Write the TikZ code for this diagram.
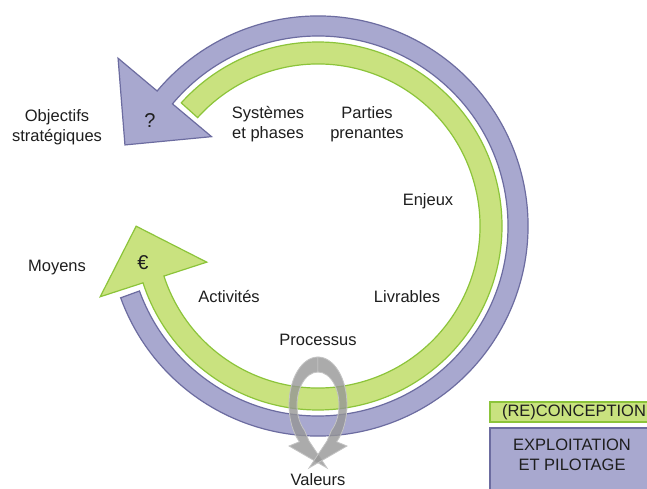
\documentclass[tikz,border=0pt]{standalone}
\usepackage{fontspec}
\setmainfont{Liberation Sans}
\usetikzlibrary{calc}
\definecolor{bandblue}{HTML}{A8A8CF}
\definecolor{edgeblue}{HTML}{6C6CA0}
\definecolor{bandgreen}{HTML}{C9E27F}
\definecolor{edgegreen}{HTML}{8CC43A}
\definecolor{loopgray}{HTML}{969696}
\definecolor{loopedge}{HTML}{C4C4C4}
\definecolor{txt}{HTML}{1E1E1E}
\begin{document}
\begin{tikzpicture}[x=1pt,y=1pt,
  lbl/.style={font=\fontsize{16.5}{20}\selectfont, text=txt, align=center, inner sep=0pt},
  sym/.style={font=\fontsize{20}{24}\selectfont, text=txt, inner sep=0pt},
  blueband/.style={fill=bandblue, draw=edgeblue, line width=1.2pt},
  greenband/.style={fill=bandgreen, draw=edgegreen, line width=1.2pt},
  grayloop/.style={fill=loopgray, fill opacity=0.8, draw=loopedge, line width=0.8pt}]
\useasboundingbox (0,0) rectangle (647,-489);
\fill[white] (0,0) rectangle (647,-489);
\clip (0,0) rectangle (647,-489);
\coordinate (C) at (318,-226);
\coordinate (E) at (318,-405);
% blue band (exploitation)
\filldraw[blueband] ($(C)+(200:210)$) arc[start angle=200,end angle=500,radius=210]
  -- ($(C)+(140:261)$) -- ($(C)+(140:200)+(230:62)$) -- ($(C)+(140:139)$)
  -- ($(C)+(140:190)$) arc[start angle=140,end angle=-160,radius=190] -- cycle;
% green band (conception)
\filldraw[greenband] ($(C)+(138:184)$) arc[start angle=138,end angle=-162,radius=184]
  -- ($(C)+(-162:229)$) -- ($(C)+(-162:173)+(108:56)$) -- ($(C)+(-162:117)$)
  -- ($(C)+(-162:162)$) arc[start angle=-162,end angle=138,radius=162] -- cycle;
% gray loop
\filldraw[grayloop] ($(E)+(90:29 and 48)$) arc[start angle=90,end angle=230,x radius=29,y radius=48]
  -- (289,-446) -- (327,-468) -- (309,-441)
  -- ($(E)+(230:21 and 33)$) arc[start angle=230,end angle=90,x radius=21,y radius=33] -- cycle;
\filldraw[grayloop] ($(E)+(90:29 and 48)$) arc[start angle=90,end angle=-50,x radius=29,y radius=48]
  -- (347,-446) -- (309,-468) -- (327,-441)
  -- ($(E)+(-50:21 and 33)$) arc[start angle=-50,end angle=90,x radius=21,y radius=33] -- cycle;
% legend
\filldraw[greenband] (490,-402) rectangle (660,-422);
\filldraw[blueband] (490,-428) rectangle (660,-500);
\node[lbl] (conc) at (574,-412) {(RE)CONCEPTION};
\node[lbl] (expl) at (572,-455) {EXPLOITATION\\ET PILOTAGE};
% labels
\node[lbl] (obj) at (57,-127) {Objectifs\\stratégiques};
\node[sym] (q) at (150,-121) {?};
\node[lbl] (sys) at (268,-124) {Systèmes\\et phases};
\node[lbl] (par) at (367,-124) {Parties\\prenantes};
\node[lbl] (enj) at (428,-201) {Enjeux};
\node[lbl] (moy) at (57,-268) {Moyens};
\node[sym] (eur) at (143,-263) {€};
\node[lbl] (act) at (229,-297) {Activités};
\node[lbl] (liv) at (407,-297) {Livrables};
\node[lbl] (pro) at (318,-340) {Processus};
\node[lbl] (val) at (318,-480) {Valeurs};
\end{tikzpicture}
\end{document}
